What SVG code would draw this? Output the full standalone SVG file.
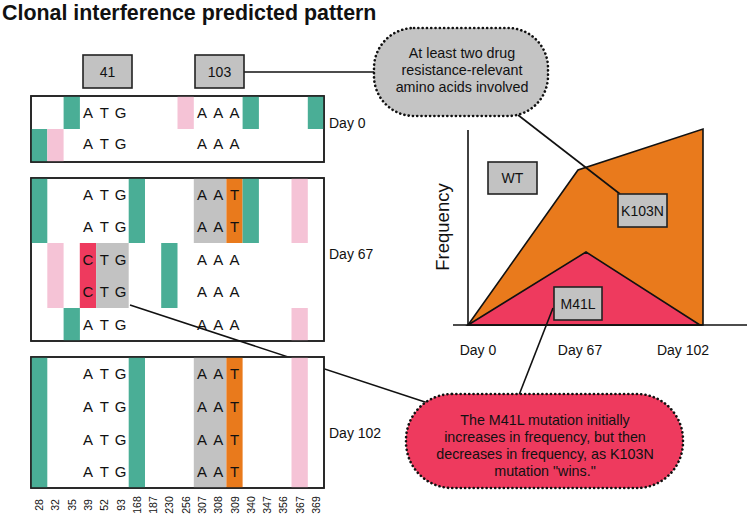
<svg xmlns="http://www.w3.org/2000/svg" width="749" height="515" viewBox="0 0 749 515">
<style>
text{font-family:"Liberation Sans",Arial,sans-serif;fill:#111}
.title{font-size:21.4px;font-weight:bold}
.nt{font-size:15px;text-anchor:middle}
.day{font-size:14px}
.cl{font-size:10.5px;text-anchor:middle}
.box{fill:#fff;stroke:#222;stroke-width:1.6}
.g{fill:#4aae96}
.p{fill:#f5c3d6}
.gr{fill:#c2c2c2}
.o{fill:#e97a1c}
.r{fill:#ee3a5e}
.lab{fill:#c2c2c2;stroke:#222;stroke-width:1.6}
.lt{font-size:14px;text-anchor:middle}
.ln{stroke:#111;stroke-width:1.6;fill:none}
.bub{stroke:#111;stroke-width:2.6;stroke-dasharray:0.1 4.2;stroke-linecap:round}
.bt{font-size:14.3px;text-anchor:middle}
</style>
<rect width="749" height="515" fill="#fff"/>
<text class="title" x="2" y="20">Clonal interference predicted pattern</text>

<g id="chart">
<polygon points="468,325 578,170 703,129 703,325" class="o" stroke="#111" stroke-width="1.6"/>
<polygon points="468,325 586,252 700,325" class="r" stroke="#111" stroke-width="1.6"/>
<line x1="468" y1="130" x2="468" y2="325" class="ln"/>
<line x1="453" y1="325" x2="747" y2="325" class="ln"/>
<text transform="translate(449,227) rotate(-90)" style="font-size:18.5px;text-anchor:middle">Frequency</text>
<text class="day" x="478" y="355" text-anchor="middle">Day 0</text>
<text class="day" x="580" y="355" text-anchor="middle">Day 67</text>
<text class="day" x="683" y="355" text-anchor="middle">Day 102</text>
<g id="wt"><rect x="488" y="162" width="49" height="32" class="lab"/><text class="lt" x="512.5" y="183">WT</text></g>
</g>

<g id="day0">
<rect x="31" y="96" width="293" height="66" class="box"/>
<rect x="63.6" y="96" width="16.3" height="33" class="g"/>
<rect x="177.5" y="96" width="16.3" height="33" class="p"/>
<rect x="242.6" y="96" width="16.3" height="33" class="g"/>
<rect x="307.8" y="96" width="16.2" height="33" class="g"/>
<rect x="31" y="129" width="16.3" height="33" class="g"/>
<rect x="47.3" y="129" width="16.3" height="33" class="p"/>
<rect x="31" y="96" width="293" height="66" fill="none" stroke="#222" stroke-width="1.6"/>
<text x="88" y="118" class="nt">A</text><text x="104.3" y="118" class="nt">T</text><text x="120.5" y="118" class="nt">G</text>
<text x="202" y="118" class="nt">A</text><text x="218.2" y="118" class="nt">A</text><text x="234.5" y="118" class="nt">A</text>
<text x="88" y="149" class="nt">A</text><text x="104.3" y="149" class="nt">T</text><text x="120.5" y="149" class="nt">G</text>
<text x="202" y="149" class="nt">A</text><text x="218.2" y="149" class="nt">A</text><text x="234.5" y="149" class="nt">A</text>
<text class="day" x="329" y="128">Day 0</text>
</g>

<g id="day67">
<rect x="31" y="178" width="293" height="163" class="box"/>
<rect x="31" y="178" width="16.3" height="65" class="g"/>
<rect x="128.7" y="178" width="16.3" height="65" class="g"/>
<rect x="193.8" y="178" width="32.6" height="65" class="gr"/>
<rect x="226.4" y="178" width="16.2" height="65" class="o"/>
<rect x="242.6" y="178" width="16.3" height="65" class="g"/>
<rect x="291.5" y="178" width="16.3" height="65" class="p"/>
<rect x="47.3" y="243" width="16.3" height="65" class="p"/>
<rect x="79.8" y="243" width="16.3" height="65" class="r"/>
<rect x="96.1" y="243" width="32.6" height="65" class="gr"/>
<rect x="161.2" y="243" width="16.3" height="65" class="g"/>
<rect x="63.6" y="308" width="16.3" height="33" class="g"/>
<rect x="291.5" y="308" width="16.3" height="33" class="p"/>
<rect x="31" y="178" width="293" height="163" fill="none" stroke="#222" stroke-width="1.6"/>
<text x="88" y="200" class="nt">A</text><text x="104.3" y="200" class="nt">T</text><text x="120.5" y="200" class="nt">G</text>
<text x="202" y="200" class="nt">A</text><text x="218.2" y="200" class="nt">A</text><text x="234.5" y="200" class="nt">T</text>
<text x="88" y="232" class="nt">A</text><text x="104.3" y="232" class="nt">T</text><text x="120.5" y="232" class="nt">G</text>
<text x="202" y="232" class="nt">A</text><text x="218.2" y="232" class="nt">A</text><text x="234.5" y="232" class="nt">T</text>
<text x="88" y="265" class="nt">C</text><text x="104.3" y="265" class="nt">T</text><text x="120.5" y="265" class="nt">G</text>
<text x="202" y="265" class="nt">A</text><text x="218.2" y="265" class="nt">A</text><text x="234.5" y="265" class="nt">A</text>
<text x="88" y="297" class="nt">C</text><text x="104.3" y="297" class="nt">T</text><text x="120.5" y="297" class="nt">G</text>
<text x="202" y="297" class="nt">A</text><text x="218.2" y="297" class="nt">A</text><text x="234.5" y="297" class="nt">A</text>
<text x="88" y="330" class="nt">A</text><text x="104.3" y="330" class="nt">T</text><text x="120.5" y="330" class="nt">G</text>
<text x="202" y="330" class="nt">A</text><text x="218.2" y="330" class="nt">A</text><text x="234.5" y="330" class="nt">A</text>
<text class="day" x="329" y="259">Day 67</text>
</g>

<g id="connectors">
<line x1="244" y1="72" x2="374" y2="72" class="ln"/>
<line x1="518" y1="115" x2="620" y2="194" class="ln"/>
<line x1="553" y1="308" x2="519" y2="395" class="ln"/>
<line x1="130" y1="305" x2="428" y2="403" class="ln"/>
</g>

<g id="day102">
<rect x="31" y="357" width="293" height="131" class="box"/>
<rect x="31" y="357" width="16.3" height="131" class="g"/>
<rect x="128.7" y="357" width="16.3" height="131" class="g"/>
<rect x="193.8" y="357" width="32.6" height="131" class="gr"/>
<rect x="226.4" y="357" width="16.2" height="131" class="o"/>
<rect x="291.5" y="357" width="16.3" height="131" class="p"/>
<rect x="31" y="357" width="293" height="131" fill="none" stroke="#222" stroke-width="1.6"/>
<text x="88" y="379" class="nt">A</text><text x="104.3" y="379" class="nt">T</text><text x="120.5" y="379" class="nt">G</text>
<text x="202" y="379" class="nt">A</text><text x="218.2" y="379" class="nt">A</text><text x="234.5" y="379" class="nt">T</text>
<text x="88" y="412" class="nt">A</text><text x="104.3" y="412" class="nt">T</text><text x="120.5" y="412" class="nt">G</text>
<text x="202" y="412" class="nt">A</text><text x="218.2" y="412" class="nt">A</text><text x="234.5" y="412" class="nt">T</text>
<text x="88" y="445" class="nt">A</text><text x="104.3" y="445" class="nt">T</text><text x="120.5" y="445" class="nt">G</text>
<text x="202" y="445" class="nt">A</text><text x="218.2" y="445" class="nt">A</text><text x="234.5" y="445" class="nt">T</text>
<text x="88" y="477" class="nt">A</text><text x="104.3" y="477" class="nt">T</text><text x="120.5" y="477" class="nt">G</text>
<text x="202" y="477" class="nt">A</text><text x="218.2" y="477" class="nt">A</text><text x="234.5" y="477" class="nt">T</text>
<text class="day" x="329" y="438">Day 102</text>
</g>

<g id="columns">
<text class="cl" transform="translate(43,505) rotate(-90)">28</text>
<text class="cl" transform="translate(59.4,505) rotate(-90)">32</text>
<text class="cl" transform="translate(75.7,505) rotate(-90)">35</text>
<text class="cl" transform="translate(92,505) rotate(-90)">39</text>
<text class="cl" transform="translate(108.3,505) rotate(-90)">52</text>
<text class="cl" transform="translate(124.5,505) rotate(-90)">93</text>
<text class="cl" transform="translate(140.8,505) rotate(-90)">168</text>
<text class="cl" transform="translate(157.1,505) rotate(-90)">187</text>
<text class="cl" transform="translate(173.4,505) rotate(-90)">230</text>
<text class="cl" transform="translate(189.7,505) rotate(-90)">256</text>
<text class="cl" transform="translate(206,505) rotate(-90)">307</text>
<text class="cl" transform="translate(222.2,505) rotate(-90)">308</text>
<text class="cl" transform="translate(238.5,505) rotate(-90)">309</text>
<text class="cl" transform="translate(254.8,505) rotate(-90)">340</text>
<text class="cl" transform="translate(271.1,505) rotate(-90)">347</text>
<text class="cl" transform="translate(287.4,505) rotate(-90)">356</text>
<text class="cl" transform="translate(303.7,505) rotate(-90)">367</text>
<text class="cl" transform="translate(319.9,505) rotate(-90)">369</text>
</g>

<g id="pos41"><rect x="83" y="55" width="49" height="33" class="lab"/><text class="lt" x="107.5" y="77">41</text></g>
<g id="pos103"><rect x="195" y="55" width="49" height="33" class="lab"/><text class="lt" x="219.5" y="77">103</text></g>
<g id="k103n"><rect x="618" y="194" width="49" height="33" class="lab"/><text class="lt" x="642.5" y="216">K103N</text></g>
<g id="m41l"><rect x="554" y="287" width="48" height="33" class="lab"/><text class="lt" x="578" y="309">M41L</text></g>

<g id="note-top">
<rect x="374" y="28" width="174" height="88" rx="40" ry="40" fill="#c4c4c4"/>
<rect x="374" y="28" width="174" height="88" rx="40" ry="40" fill="none" class="bub"/>
<text class="bt" x="462" y="58">At least two drug</text>
<text class="bt" x="462" y="75">resistance-relevant</text>
<text class="bt" x="462" y="92">amino acids involved</text>
</g>

<g id="note-bottom">
<rect x="406" y="394" width="277" height="94" rx="46" ry="46" fill="#ee3a5e"/>
<rect x="406" y="394" width="277" height="94" rx="46" ry="46" fill="none" class="bub"/>
<text class="bt" x="545" y="425">The M41L mutation initially</text>
<text class="bt" x="545" y="442">increases in frequency, but then</text>
<text class="bt" x="545" y="459">decreases in frequency, as K103N</text>
<text class="bt" x="545" y="476">mutation "wins."</text>
</g>
</svg>
